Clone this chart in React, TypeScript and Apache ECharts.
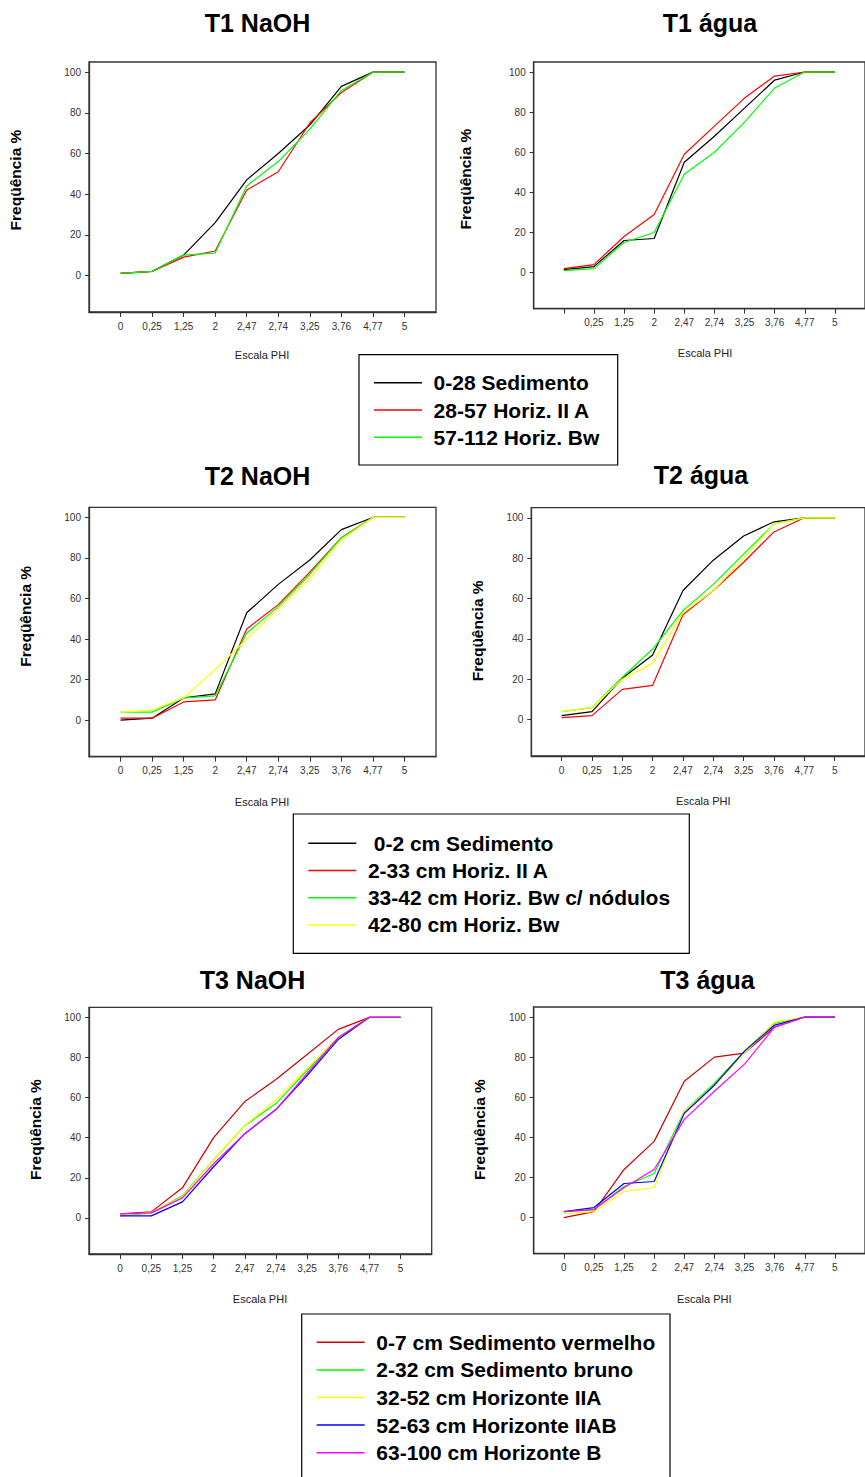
import React, { useEffect, useRef } from "react";
import * as echarts from "echarts";

// Phi-scale classes on the horizontal axis
const PHI_LABELS = ["0", "0,25", "1,25", "2", "2,47", "2,74", "3,25", "3,76", "4,77", "5"];
const Y_TICKS = [0, 20, 40, 60, 80, 100];

// Profile T1 (cumulative frequency, %)
const T1_NAMES = ["0-28 Sedimento", "28-57 Horiz. II A", "57-112 Horiz. Bw"];
const T1_COLORS = ["#000000", "#ff0000", "#00ff00"];
const t1NaohSedimento = [1, 2, 10, 26, 47, 60, 74, 93, 100, 100];
const t1NaohHorizIIA = [1, 2, 9, 12, 42, 51, 75, 90, 100, 100];
const t1NaohHorizBw = [1, 2, 10, 11, 44, 56, 72, 91, 100, 100];
const t1AguaSedimento = [1.5, 3, 16, 17, 55, 68, 82, 96, 100, 100];
const t1AguaHorizIIA = [2, 4, 18, 29, 59, 73, 87, 98, 100, 100];
const t1AguaHorizBw = [1, 2, 15, 20, 49, 60, 75, 92, 100, 100];

// Profile T2
const T2_NAMES = [" 0-2 cm Sedimento", "2-33 cm Horiz. II A", "33-42 cm Horiz. Bw c/ nódulos", "42-80 cm Horiz. Bw"];
const T2_COLORS = ["#000000", "#ff0000", "#00ff00", "#ffff00"];
const t2NaohSedimento = [0, 1, 11, 13, 53, 67, 79, 94, 100, 100];
const t2NaohHorizIIA = [1, 1, 9, 10, 45, 57, 73, 90, 100, 100];
const t2NaohBwNodulos = [4, 4, 11, 12, 43, 56, 72, 90, 100, 100];
const t2NaohHorizBw = [4, 5, 11, 25, 40, 55, 70, 89, 100, 100];
const t2AguaSedimento = [2, 4, 20.5, 32, 64, 79, 91, 98, 100, 100];
const t2AguaHorizIIA = [1, 2, 15, 17, 52, 64, 78, 93, 100, 100];
const t2AguaBwNodulos = [4, 6, 21, 35, 54, 67, 82, 97, 100, 100];
const t2AguaHorizBw = [4, 6, 20, 28, 53, 64, 80, 97, 100, 100];

// Profile T3
const T3_NAMES = [
  "0-7 cm Sedimento vermelho",
  "2-32 cm Sedimento bruno",
  "32-52 cm Horizonte IIA",
  "52-63 cm Horizonte IIAB",
  "63-100 cm Horizonte B",
];
const T3_COLORS = ["#cc0000", "#00ff00", "#ffff00", "#0000ff", "#ff00ff"];
const t3NaohVermelho = [2, 3, 15, 40, 58, 69, 81.5, 94, 100, 100];
const t3NaohBruno = [1, 2.5, 11, 29, 46, 57, 73.5, 90, 100, 100];
const t3NaohIIA = [1.5, 2.7, 10.5, 29, 46, 59, 74.5, 90, 100, 100];
const t3NaohIIAB = [1, 1, 8, 25.5, 42, 54, 71, 89, 100, 100];
const t3NaohB = [2, 2.5, 10, 27, 42, 54, 72, 90, 100, 100];
const t3AguaVermelho = [0, 3, 24, 38, 68, 80, 82, 95, 100, 100];
const t3AguaBruno = [3, 4, 15.5, 22, 53, 67, 83, 97, 100, 100];
const t3AguaIIA = [2, 3, 13, 15, 53, 66, 82, 97.5, 100, 100];
const t3AguaIIAB = [3, 5, 17, 18, 52, 66, 83, 96, 100, 100];
const t3AguaB = [3, 4, 15, 24, 49, 63, 76.5, 95, 100, 100];

const FONT = 'Arial, "Liberation Sans", sans-serif';

type Panel = {
  title: string;
  names: string[];
  colors: string[];
  values: number[][];
  hideFirstLabel?: boolean;
  grid: { left: number; top: number; width: number; height: number };
  titlePos: [number, number];
  yNamePos: [number, number];
  xNamePos: [number, number];
};

const panels: Panel[] = [
  {
    title: "T1 NaOH",
    names: T1_NAMES,
    colors: T1_COLORS,
    values: [t1NaohSedimento, t1NaohHorizIIA, t1NaohHorizBw],
    grid: { left: 89, top: 62, width: 347, height: 250 },
    titlePos: [257.5, 23],
    yNamePos: [15.5, 180],
    xNamePos: [262, 355],
  },
  {
    title: "T1 água",
    names: T1_NAMES,
    colors: T1_COLORS,
    values: [t1AguaSedimento, t1AguaHorizIIA, t1AguaHorizBw],
    hideFirstLabel: true,
    grid: { left: 533.7, top: 62, width: 342, height: 246.7 },
    titlePos: [710, 23],
    yNamePos: [465.5, 179],
    xNamePos: [705, 353],
  },
  {
    title: "T2 NaOH",
    names: T2_NAMES,
    colors: T2_COLORS,
    values: [t2NaohSedimento, t2NaohHorizIIA, t2NaohBwNodulos, t2NaohHorizBw],
    grid: { left: 89, top: 507.3, width: 347, height: 249.4 },
    titlePos: [257.5, 476],
    yNamePos: [25.8, 616.3],
    xNamePos: [262, 801.7],
  },
  {
    title: "T2 água",
    names: T2_NAMES,
    colors: T2_COLORS,
    values: [t2AguaSedimento, t2AguaHorizIIA, t2AguaBwNodulos, t2AguaHorizBw],
    grid: { left: 531.3, top: 507.7, width: 344.4, height: 248.3 },
    titlePos: [701, 474.5],
    yNamePos: [477.5, 630.8],
    xNamePos: [703.3, 801],
  },
  {
    title: "T3 NaOH",
    names: T3_NAMES,
    colors: T3_COLORS,
    values: [t3NaohVermelho, t3NaohBruno, t3NaohIIA, t3NaohIIAB, t3NaohB],
    grid: { left: 89, top: 1007.3, width: 342.7, height: 246.7 },
    titlePos: [252.5, 979.5],
    yNamePos: [35, 1129.5],
    xNamePos: [260, 1299],
  },
  {
    title: "T3 água",
    names: T3_NAMES,
    colors: T3_COLORS,
    values: [t3AguaVermelho, t3AguaBruno, t3AguaIIA, t3AguaIIAB, t3AguaB],
    grid: { left: 533.7, top: 1007, width: 342, height: 246.7 },
    titlePos: [707.5, 980],
    yNamePos: [479, 1129.5],
    xNamePos: [704.3, 1299],
  },
];

type LegendBox = {
  names: string[];
  box: { x: number; y: number; width: number; height: number };
  left: number;
  top: number;
  gap: number;
};

const legendBoxes: LegendBox[] = [
  { names: T1_NAMES, box: { x: 359, y: 354.7, width: 258.7, height: 110.3 }, left: 374, top: 370.7, gap: 3.3 },
  { names: T2_NAMES, box: { x: 293.3, y: 814, width: 396, height: 139.3 }, left: 308.3, top: 831.3, gap: 3.2 },
  { names: T3_NAMES, box: { x: 301.7, y: 1314, width: 368.3, height: 200 }, left: 316.7, top: 1330.3, gap: 3.6 },
];

export default function App() {
  const ref = useRef<HTMLDivElement>(null);

  useEffect(() => {
    if (!ref.current) return;
    const chart = echarts.init(ref.current, undefined, { renderer: "svg" });

    const grids = panels.map((p) => ({
      ...p.grid,
      show: true,
      borderColor: "#333",
      borderWidth: 1.3,
      backgroundColor: "transparent",
      containLabel: false,
    }));

    const xAxes = panels.map((p, i) => ({
      type: "value",
      gridIndex: i,
      min: 0,
      max: 11,
      axisLine: { show: true, onZero: false, lineStyle: { color: "#333", width: 1.3 } },
      axisTick: {
        show: true,
        inside: false,
        length: 5,
        customValues: PHI_LABELS.map((_, k) => k + 1),
        lineStyle: { color: "#333" },
      },
      axisLabel: {
        show: true,
        margin: 9,
        fontSize: 10,
        fontFamily: FONT,
        color: "#333",
        customValues: PHI_LABELS.map((_, k) => k + 1),
        formatter: (v: number) => {
          const k = Math.round(v) - 1;
          if (p.hideFirstLabel && k === 0) return "";
          return PHI_LABELS[k] ?? "";
        },
      },
      splitLine: { show: false },
    }));

    const yAxes = panels.map((_, i) => ({
      type: "value",
      gridIndex: i,
      min: -18,
      max: 105,
      axisLine: { show: true, onZero: false, lineStyle: { color: "#333", width: 1.3 } },
      axisTick: {
        show: true,
        inside: false,
        length: 4,
        customValues: Y_TICKS,
        lineStyle: { color: "#333" },
      },
      axisLabel: {
        show: true,
        margin: 8,
        fontSize: 10,
        fontFamily: FONT,
        color: "#333",
        customValues: Y_TICKS,
      },
      splitLine: { show: false },
    }));

    const series: any[] = [];
    panels.forEach((p, i) => {
      p.values.forEach((vals, s) => {
        series.push({
          type: "line",
          name: p.names[s],
          xAxisIndex: i,
          yAxisIndex: i,
          showSymbol: false,
          symbol: "none",
          lineStyle: { color: p.colors[s], width: 1.2 },
          itemStyle: { color: p.colors[s] },
          emphasis: { disabled: true },
          data: vals.map((v, k) => [k + 1, v]),
        });
      });
    });

    const legends = legendBoxes.map((l) => ({
      data: l.names,
      orient: "vertical",
      left: l.left,
      top: l.top,
      padding: 0,
      itemGap: l.gap,
      itemWidth: 48,
      itemHeight: 1.5,
      icon: "rect",
      selectedMode: false,
      textStyle: {
        fontSize: 21,
        fontWeight: "bold",
        fontFamily: FONT,
        color: "#000",
        lineHeight: 24,
        padding: [0, 0, 0, 6.6],
      },
    }));

    const graphics: any[] = [];
    legendBoxes.forEach((l) => {
      graphics.push({
        type: "rect",
        shape: l.box,
        style: { fill: "none", stroke: "#000", lineWidth: 1.2 },
        z: 1,
      });
    });
    panels.forEach((p) => {
      graphics.push({
        type: "text",
        x: p.titlePos[0],
        y: p.titlePos[1],
        style: {
          text: p.title,
          font: `bold 25px ${FONT}`,
          fill: "#000",
          textAlign: "center",
          textVerticalAlign: "middle",
        },
      });
      graphics.push({
        type: "text",
        x: p.yNamePos[0],
        y: p.yNamePos[1],
        rotation: Math.PI / 2,
        style: {
          text: "Freqüência %",
          font: `bold 15.5px ${FONT}`,
          fill: "#000",
          textAlign: "center",
          textVerticalAlign: "middle",
        },
      });
      graphics.push({
        type: "text",
        x: p.xNamePos[0],
        y: p.xNamePos[1],
        style: {
          text: "Escala PHI",
          font: `11px ${FONT}`,
          fill: "#222",
          textAlign: "center",
          textVerticalAlign: "middle",
        },
      });
    });

    chart.setOption({
      animation: false,
      backgroundColor: "#ffffff",
      grid: grids,
      xAxis: xAxes,
      yAxis: yAxes,
      legend: legends,
      series,
      graphic: graphics,
    });

    return () => chart.dispose();
  }, []);

  return (
    <div
      ref={ref}
      style={{ position: "absolute", left: 0, top: 0, width: 865, height: 1477, background: "#fff", overflow: "hidden" }}
    />
  );
}
